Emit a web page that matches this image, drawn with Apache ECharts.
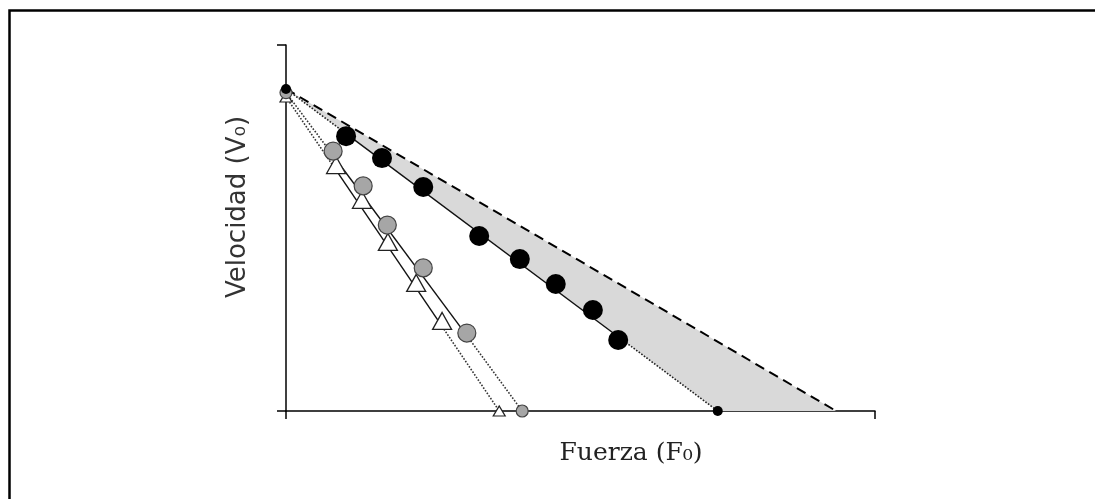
<!DOCTYPE html>
<html>
<head>
<meta charset="utf-8">
<script src="https://cdn.jsdelivr.net/npm/echarts@6/dist/echarts.min.js"></script>
<style>
  html, body { margin: 0; padding: 0; background: #fff; }
  #chart { width: 1095px; height: 499px; }
</style>
</head>
<body>
<div id="chart"></div>
<script>
// values (axis units 0..100, no tick labels shown)
var startBlack = [0, 88];
var startGray = [0, 87];
var startTri = [0, 85.8];

var blackPts = [[10.2, 75.1], [16.3, 69.1], [23.3, 61.2], [32.8, 47.8], [39.7, 41.5], [45.8, 34.7], [52.1, 27.6], [56.4, 19.4]];
var grayPts = [[8.0, 71.0], [13.1, 61.5], [17.2, 50.8], [23.3, 39.1], [30.7, 21.3]];
var triPts = [[8.5, 67.2], [12.9, 57.7], [17.3, 46.2], [22.1, 35.0], [26.5, 24.6]];

// solid part of each fitted line (read where it enters/leaves the markers)
var blackFit = [[10.2, 75.8], [56.4, 20.3]];
var grayFit = [[8.0, 69.8], [30.7, 20.6]];
var triFit = [[8.5, 65.8], [26.5, 23.1]];

var blackF0 = [73.3, 0];
var grayF0 = [40.1, 0];
var triF0 = [36.2, 0];
var maxF0 = [93.4, 0];

var chart = echarts.init(document.getElementById('chart'));

function dotted(a, b, c, d) {
    return [a, b, '-', c, d];
}

function fitLine(pts, z) {
    return {
        type: 'line', z: z, data: pts, symbol: 'none',
        lineStyle: { color: '#111', width: 1.4 }
    };
}

option = {
    animation: false,
    grid: { left: 286, top: 45, width: 589, height: 366 },
    xAxis: {
        type: 'value', min: 0, max: 100, interval: 100,
        axisLine: { show: true, onZero: false, lineStyle: { color: '#000', width: 1.5 } },
        axisTick: { show: true, inside: false, length: 8, lineStyle: { color: '#000', width: 1.5 } },
        axisLabel: { show: false },
        splitLine: { show: false }
    },
    yAxis: {
        type: 'value', min: 0, max: 100, interval: 100,
        axisLine: { show: true, onZero: false, lineStyle: { color: '#000', width: 1.5 } },
        axisTick: { show: true, inside: false, length: 9, lineStyle: { color: '#000', width: 1.5 } },
        axisLabel: { show: false },
        splitLine: { show: false }
    },
    graphic: [
        { type: 'rect', left: 7, top: 8, shape: { width: 1200, height: 600 },
          style: { fill: 'none', stroke: '#000', lineWidth: 2.5 }, silent: true },
        { type: 'text', x: 238, y: 207, rotation: Math.PI / 2,
          style: { text: 'Velocidad (V₀)', font: '26px "DejaVu Sans"', fill: '#333',
                   textAlign: 'center', textVerticalAlign: 'middle' } },
        { type: 'text', x: 631, y: 453,
          style: { text: 'Fuerza (F₀)', font: '25px "DejaVu Serif"', fill: '#222',
                   textAlign: 'center', textVerticalAlign: 'middle' } }
    ],
    series: [
        {
            // shaded gap between max line and measured black profile
            type: 'custom', z: 1, silent: true,
            data: [[startBlack[0], startBlack[1], maxF0[0], blackF0[0]]],
            renderItem: function (params, api) {
                var p0 = api.coord([api.value(0), api.value(1)]);
                var p1 = api.coord([api.value(2), 0]);
                var p2 = api.coord([api.value(3), 0]);
                return { type: 'polygon', shape: { points: [p0, p1, p2] },
                         style: { fill: '#d9d9d9' } };
            }
        },
        {
            type: 'line', z: 2, data: [startBlack, maxF0], symbol: 'none',
            lineStyle: { color: '#000', width: 2, type: [10, 6] }
        },
        {
            type: 'line', z: 3, data: dotted(startBlack, blackFit[0], blackFit[1], blackF0),
            symbol: 'none', lineStyle: { color: '#222', width: 1.6, type: 'dotted' }
        },
        {
            type: 'line', z: 3, data: dotted(startGray, grayFit[0], grayFit[1], grayF0),
            symbol: 'none', lineStyle: { color: '#333', width: 1.6, type: 'dotted' }
        },
        {
            type: 'line', z: 3, data: dotted(startTri, triFit[0], triFit[1], triF0),
            symbol: 'none', lineStyle: { color: '#333', width: 1.6, type: 'dotted' }
        },
        fitLine(blackFit, 3),
        fitLine(grayFit, 3),
        fitLine(triFit, 3),
        {
            type: 'scatter', z: 4, data: triPts, symbol: 'triangle', symbolSize: [19, 17],
            itemStyle: { color: '#fff', borderColor: '#222', borderWidth: 1.3, opacity: 1 }
        },
        {
            type: 'scatter', z: 5, data: grayPts, symbol: 'circle', symbolSize: 18,
            itemStyle: { color: '#a6a6a6', borderColor: '#444', borderWidth: 1.2, opacity: 1 }
        },
        {
            type: 'scatter', z: 5, data: blackPts, symbol: 'circle', symbolSize: 20,
            itemStyle: { color: '#000', opacity: 1 }
        },
        {
            type: 'scatter', z: 6, data: [startTri, triF0], symbol: 'triangle', symbolSize: [12, 10],
            itemStyle: { color: '#fff', borderColor: '#222', borderWidth: 1.2, opacity: 1 }
        },
        {
            type: 'scatter', z: 6, data: [startGray, grayF0], symbol: 'circle', symbolSize: 12,
            itemStyle: { color: '#a6a6a6', borderColor: '#444', borderWidth: 1.2, opacity: 1 }
        },
        {
            type: 'scatter', z: 7, data: [startBlack, blackF0], symbol: 'circle', symbolSize: 10,
            itemStyle: { color: '#000', opacity: 1 }
        }
    ]
};

chart.setOption(option);
</script>
</body>
</html>
